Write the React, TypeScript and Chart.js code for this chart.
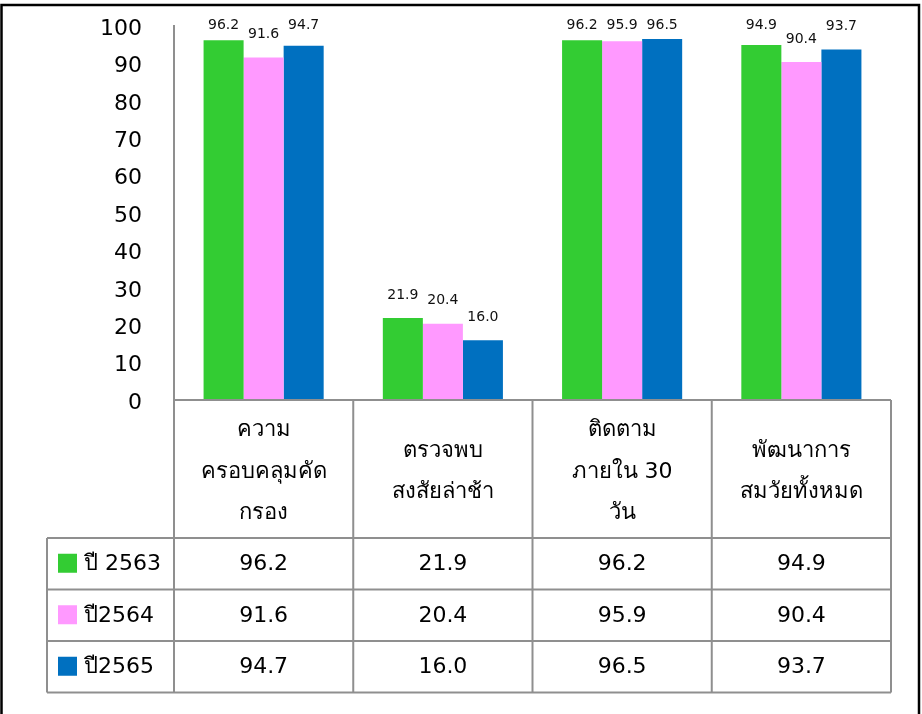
import React, { useEffect, useRef } from "react";
import { Chart, registerables } from "chart.js";

Chart.register(...registerables);

// Category headings (one entry per line of the wrapped heading)
const categories: string[][] = [
  ["ความ", "ครอบคลุมคัด", "กรอง"],
  ["ตรวจพบ", "สงสัยล่าช้า"],
  ["ติดตาม", "ภายใน 30", "วัน"],
  ["พัฒนาการ", "สมวัยทั้งหมด"],
];

const seriesNames = ["ปี 2563", "ปี2564", "ปี2565"];
const values2563 = [96.2, 21.9, 96.2, 94.9];
const values2564 = [91.6, 20.4, 95.9, 90.4];
const values2565 = [94.7, 16.0, 96.5, 93.7];
const seriesColors = ["#33CC33", "#FF99FF", "#0070C0"];

const yTicks = [0, 10, 20, 30, 40, 50, 60, 70, 80, 90, 100];

const FONT = "'DejaVu Sans', 'Noto Sans', sans-serif";
const GRID_GRAY = "#8f8f8f";

const tablePlugin = {
  id: "dataTable",
  afterDatasetsDraw(chart: any) {
    const ctx: CanvasRenderingContext2D = chart.ctx;
    const area = chart.chartArea;

    // value labels above the bars
    ctx.save();
    ctx.font = `14px ${FONT}`;
    ctx.fillStyle = "#111";
    ctx.textAlign = "center";
    ctx.textBaseline = "middle";
    chart.data.datasets.forEach((ds: any, di: number) => {
      const meta = chart.getDatasetMeta(di);
      meta.data.forEach((el: any, i: number) => {
        const y = Math.max(el.y - 23, area.top - 1);
        ctx.fillText(Number(ds.data[i]).toFixed(1), el.x, y);
      });
    });
    ctx.restore();
  },
  afterDraw(chart: any) {
    const ctx: CanvasRenderingContext2D = chart.ctx;
    const area = chart.chartArea;
    const n = categories.length;
    const colW = (area.right - area.left) / n;
    const headerTop = area.bottom;
    const headerBottom = headerTop + 138;
    const rowH = 51.5;
    const legendLeft = 47;
    const tableBottom = headerBottom + rowH * seriesNames.length;

    ctx.save();
    ctx.strokeStyle = GRID_GRAY;
    ctx.lineWidth = 2;

    // horizontal lines
    ctx.beginPath();
    ctx.moveTo(area.left, headerTop);
    ctx.lineTo(area.right, headerTop);
    for (let r = 0; r <= seriesNames.length; r++) {
      const y = headerBottom + r * rowH;
      ctx.moveTo(legendLeft, y);
      ctx.lineTo(area.right, y);
    }
    // vertical lines
    for (let c = 0; c <= n; c++) {
      const x = area.left + c * colW;
      ctx.moveTo(x, headerTop);
      ctx.lineTo(x, tableBottom);
    }
    ctx.moveTo(legendLeft, headerBottom);
    ctx.lineTo(legendLeft, tableBottom);
    ctx.stroke();

    // heading text
    ctx.fillStyle = "#000";
    ctx.textAlign = "center";
    ctx.textBaseline = "middle";
    ctx.font = `22px ${FONT}`;
    const lineH = 41.5;
    const headMid = (headerTop + headerBottom) / 2 + 3;
    categories.forEach((lines, c) => {
      const cx = area.left + (c + 0.5) * colW;
      const start = headMid - ((lines.length - 1) * lineH) / 2;
      lines.forEach((t, k) => ctx.fillText(t, cx, start + k * lineH));
    });

    // rows: legend key + values
    const seriesValues = chart.data.datasets.map((d: any) => d.data);
    seriesNames.forEach((name, r) => {
      const cy = headerBottom + (r + 0.5) * rowH;
      ctx.fillStyle = seriesColors[r];
      ctx.fillRect(58, cy - 10, 19, 19);
      ctx.fillStyle = "#000";
      ctx.textAlign = "left";
      ctx.fillText(name, 84, cy + 1);
      ctx.textAlign = "center";
      seriesValues[r].forEach((v: number, c: number) => {
        const cx = area.left + (c + 0.5) * colW;
        ctx.fillText(Number(v).toFixed(1), cx, cy + 1);
      });
    });

    // outer frame
    ctx.strokeStyle = "#000";
    ctx.lineWidth = 2.5;
    ctx.strokeRect(1.5, 5, 917.5, 720);
    ctx.restore();
  },
};

export default function App() {
  const canvasRef = useRef<HTMLCanvasElement | null>(null);

  useEffect(() => {
    const canvas = canvasRef.current;
    if (!canvas) return;
    const chart = new Chart(canvas, {
      type: "bar",
      data: {
        labels: categories.map((c) => c.join(" ")),
        datasets: [values2563, values2564, values2565].map((vals, i) => ({
          label: seriesNames[i],
          data: vals,
          backgroundColor: seriesColors[i],
          borderWidth: 0,
          categoryPercentage: 0.67,
          barPercentage: 1.0,
        })),
      },
      options: {
        responsive: false,
        animation: false,
        devicePixelRatio: 1,
        layout: { padding: { left: 0, top: 26, right: 31, bottom: 314 } },
        plugins: {
          legend: { display: false },
          tooltip: { enabled: false },
        },
        scales: {
          x: { display: false },
          y: {
            min: 0,
            max: 100,
            afterBuildTicks: (scale: any) => {
              scale.ticks = yTicks.map((v) => ({ value: v }));
            },
            afterFit: (scale: any) => {
              scale.width = 174;
              scale.paddingTop = 0;
              scale.paddingBottom = 0;
            },
            grid: { display: false },
            border: { display: true, color: GRID_GRAY, width: 2 },
            ticks: {
              padding: 24,
              labelOffset: 3,
              color: "#000",
              font: { family: FONT, size: 22 },
            },
          },
        },
      },
      plugins: [tablePlugin],
    });
    return () => chart.destroy();
  }, []);

  return (
    <div
      style={{
        position: "fixed",
        left: 0,
        top: 0,
        width: 922,
        height: 714,
        background: "#fff",
      }}
    >
      <canvas ref={canvasRef} width={922} height={714} />
    </div>
  );
}
